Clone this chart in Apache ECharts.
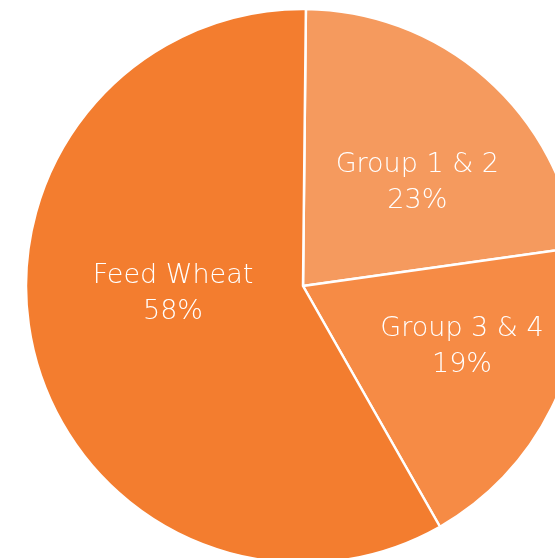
<!DOCTYPE html>
<html><head><meta charset="utf-8">
<style>html,body{margin:0;padding:0;background:#fff}#c{width:555px;height:558px}</style>
<script src="https://cdn.jsdelivr.net/npm/echarts@6/dist/echarts.min.js"></script>
</head><body><div id="c"></div>
<script>
var categories = ['Group 1 & 2', 'Group 3 & 4', 'Feed Wheat'];
var values = [22.6, 19.0, 58.4];
var colors = ['#F59A5E', '#F68B45', '#F37D2F'];
var labelOffsets = [[21, 3], [32, -1], [7, -27]];

var chart = echarts.init(document.getElementById('c'), null, {renderer: 'canvas'});
chart.setOption({
  animation: false,
  series: [{
    type: 'pie',
    center: [303, 286],
    radius: 277,
    startAngle: 89.4,
    clockwise: true,
    data: categories.map(function (n, i) {
      return {
        name: n, value: values[i],
        itemStyle: {color: colors[i]},
        label: {offset: labelOffsets[i]}
      };
    }),
    itemStyle: {borderColor: '#fff', borderWidth: 2.5},
    label: {
      show: true, position: 'inside',
      formatter: function (p) { return p.name + '\n' + Math.round(p.percent) + '%'; },
      color: '#fff', fontFamily: 'DejaVu Sans', fontWeight: 200, fontSize: 27, lineHeight: 36,
      align: 'center'
    },
    labelLine: {show: false},
    emphasis: {disabled: true}
  }]
});
</script></body></html>
